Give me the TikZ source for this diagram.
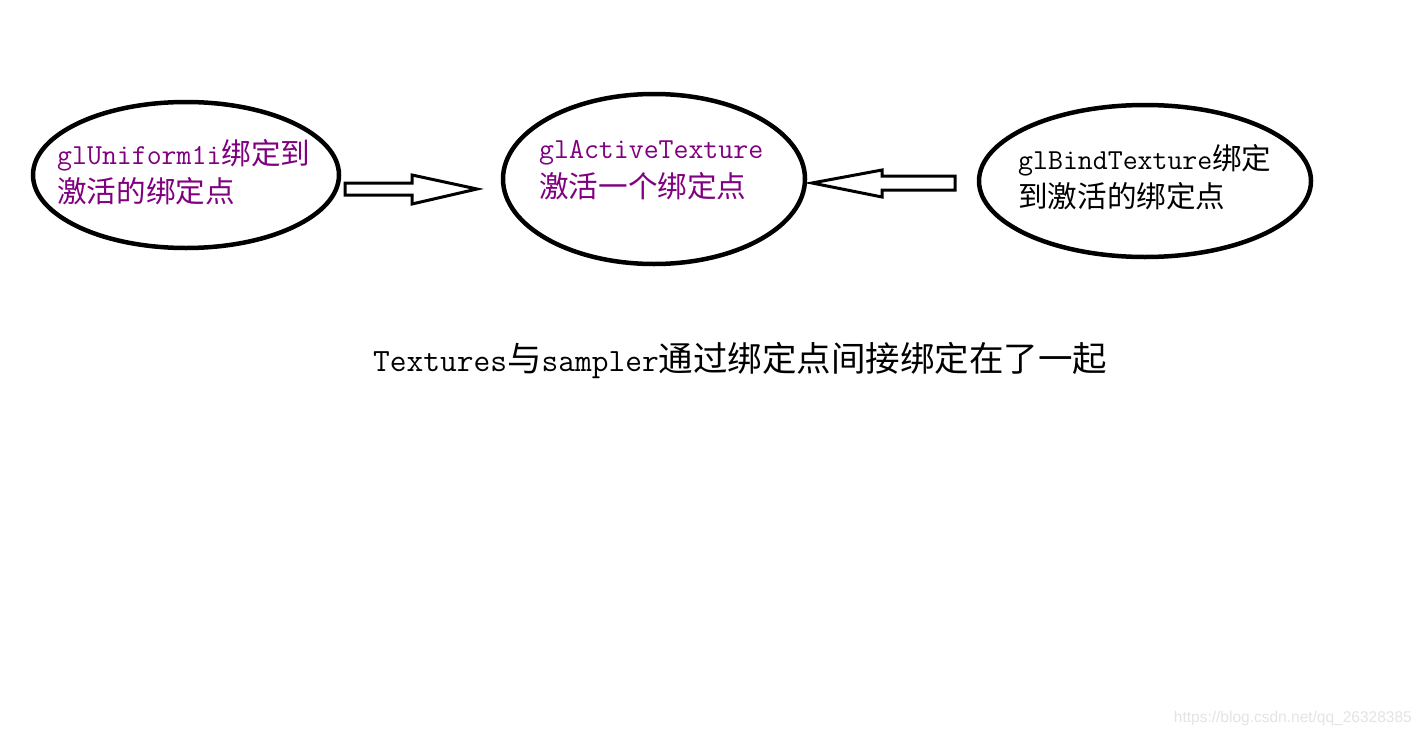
\documentclass[tikz,border=0pt]{standalone}
\usepackage{fontspec}
\newfontfamily\cjk{Noto Sans CJK SC}
\newfontfamily\wmfont{Liberation Sans}
\usetikzlibrary{shapes.geometric}
\definecolor{txtpurple}{RGB}{128,0,128}
\definecolor{wmgray}{RGB}{228,228,228}
\newcommand{\lat}[1]{{\ttfamily\fontsize{29}{38.5}\selectfont #1}}
\newcommand{\han}[1]{{\cjk\fontsize{29.6}{38.5}\selectfont #1}}
\newcommand{\clat}[1]{{\ttfamily\fontsize{32.5}{40}\selectfont #1}}
\newcommand{\chan}[1]{{\cjk\fontsize{34.5}{40}\selectfont #1}}
\begin{document}
\begin{tikzpicture}[x=1pt,y=-1pt,
  bubble/.style={draw=black,line width=4.5pt,ellipse,inner sep=0pt},
  label/.style={anchor=west,align=left,inner sep=0pt,font=\fontsize{29.6}{38.5}\selectfont},
  blockarrow/.style={draw=black,line width=3pt,fill=white,line join=miter}]
\useasboundingbox[fill=white] (0,0) rectangle (1421,736);
% ellipses
\node[bubble,minimum width=306pt,minimum height=146pt] (e1) at (186,175) {};
\node[bubble,minimum width=302pt,minimum height=170pt] (e2) at (654,179) {};
\node[bubble,minimum width=332pt,minimum height=152pt] (e3) at (1145,181) {};
% texts
\node[label,text=txtpurple] (t1) at (57,172) {\lat{glUniform1i}\han{绑定到}\\\han{激活的绑定点}};
\node[label,text=txtpurple] (t2) at (539,170) {\lat{glActiveTexture}\\\han{激活一个绑定点}};
\node[label,text=black] (t3) at (1018,177) {\lat{glBindTexture}\han{绑定}\\\han{到激活的绑定点}};
% block arrows
\draw[blockarrow] (345,183) -- (412,183) -- (412,175) -- (477,189) -- (412,204) -- (412,195) -- (345,195) -- cycle;
\draw[blockarrow] (955,176) -- (882,176) -- (882,170) -- (812,183) -- (882,197) -- (882,190) -- (955,190) -- cycle;
% caption
\node[anchor=west,inner sep=0pt] (cap) at (373,360) {\clat{Textures}\chan{与}\clat{sampler}\chan{通过绑定点间接绑定在了一起}};
% watermark
\node[anchor=east,inner sep=0pt,text=wmgray,font=\wmfont\fontsize{15.5}{18}\selectfont] (wm) at (1412,718) {https://blog.csdn.net/qq\_26328385};
\end{tikzpicture}
\end{document}
